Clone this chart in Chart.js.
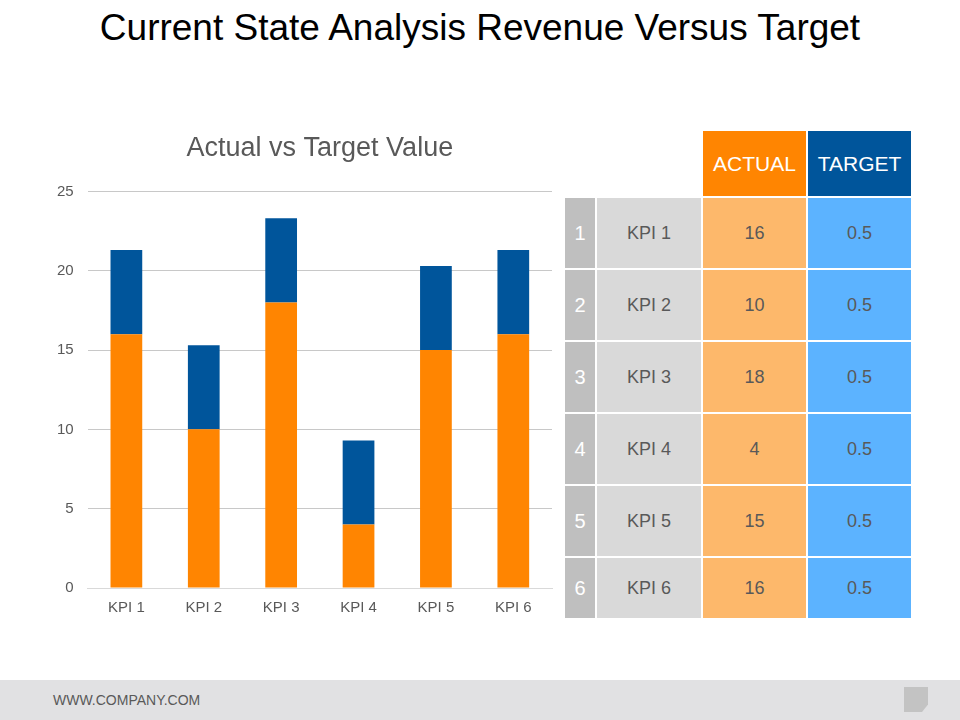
<!DOCTYPE html>
<html>
<head>
<meta charset="utf-8">
<script src="https://cdn.jsdelivr.net/npm/chart.js@4"></script>
<style>
  body { margin: 0; width: 960px; height: 720px; position: relative; overflow: hidden; background: #fff; font-family: "Liberation Sans", Arial, sans-serif; }
  #title { position: absolute; top: 7px; left: 0; width: 960px; text-align: center; font-size: 37px; color: #000; }
  #chartBox { position: absolute; left: 43px; top: 128px; width: 519px; height: 492px; }
  #kpiTable { position: absolute; left: 563px; top: 129px; border-collapse: separate; border-spacing: 2px; }
  #kpiTable td { text-align: center; font-size: 18px; color: #595959; padding: 0; }
  #kpiTable td.num { background: #bfbfbf; color: #fff; width: 30px; font-size: 20px; }
  #kpiTable td.name { background: #d9d9d9; width: 104px; }
  #kpiTable td.act { background: #fdb86b; width: 103px; }
  #kpiTable td.tgt { background: #5cb3ff; width: 103px; }
  #kpiTable td.hAct { background: #ff8501; color: #fff; font-size: 21px; }
  #kpiTable td.hTgt { background: #00559b; color: #fff; font-size: 21px; }
  #footer { position: absolute; left: 0; top: 680px; width: 960px; height: 40px; background: #e1e1e3; }
  #footer span { position: absolute; left: 53px; top: 12px; font-size: 14px; color: #595959; }
  #pageIcon { position: absolute; left: 904px; top: 7px; width: 24px; height: 25px; background: #c3c3c3; clip-path: polygon(0 0, 100% 0, 100% 70%, 75% 100%, 0 100%); }
</style>
</head>
<body>
<div id="title">Current State Analysis Revenue Versus Target</div>
<div id="chartBox"><canvas id="chart"></canvas></div>
<table id="kpiTable"></table>
<div id="footer"><span>WWW.COMPANY.COM</span><div id="pageIcon"></div></div>
<script>
const categories = ['KPI 1', 'KPI 2', 'KPI 3', 'KPI 4', 'KPI 5', 'KPI 6'];
const actualValues = [16, 10, 18, 4, 15, 16];
const targetBarValues = [5.3, 5.3, 5.3, 5.3, 5.3, 5.3];
const tableTargetValues = [0.5, 0.5, 0.5, 0.5, 0.5, 0.5];
const yTicks = [0, 5, 10, 15, 20, 25];

// build the table from the arrays
const table = document.getElementById('kpiTable');
let html = '<tr style="height:65px"><td></td><td></td><td class="hAct">ACTUAL</td><td class="hTgt">TARGET</td></tr>';
categories.forEach((c, i) => {
  const h = i === categories.length - 1 ? 60 : 70;
  html += `<tr style="height:${h}px"><td class="num">${i + 1}</td><td class="name">${c}</td>` +
          `<td class="act">${actualValues[i]}</td><td class="tgt">${tableTargetValues[i]}</td></tr>`;
});
table.innerHTML = html;

Chart.defaults.font.family = '"Liberation Sans", Arial, sans-serif';
Chart.defaults.color = '#595959';

new Chart(document.getElementById('chart'), {
  type: 'bar',
  data: {
    labels: categories,
    datasets: [
      { label: 'Actual', data: actualValues, backgroundColor: '#ff8501' },
      { label: 'Target', data: targetBarValues, backgroundColor: '#00559b' }
    ]
  },
  options: {
    responsive: true,
    maintainAspectRatio: false,
    animation: false,
    layout: { padding: { left: 0, right: 10, top: 0, bottom: 0 } },
    datasets: { bar: { barPercentage: 0.41, categoryPercentage: 1 } },
    plugins: {
      legend: { display: false },
      tooltip: { enabled: false },
      title: {
        display: true,
        fullSize: false, // centre over the plot area
        text: 'Actual vs Target Value',
        font: { size: 27, weight: 'normal' },
        color: '#595959',
        padding: { top: 4, bottom: 27 }
      }
    },
    scales: {
      x: {
        stacked: true,
        grid: { display: false },
        border: { color: '#d9d9d9' },
        ticks: { font: { size: 15 }, padding: 3 }
      },
      y: {
        stacked: true,
        min: 0,
        max: 25,
        afterBuildTicks: axis => { axis.ticks = yTicks.map(v => ({ value: v })); },
        grid: { color: '#c8c8c8', drawTicks: false },
        border: { display: false },
        ticks: { font: { size: 15 }, padding: 14 }
      }
    }
  }
});
</script>
</body>
</html>
